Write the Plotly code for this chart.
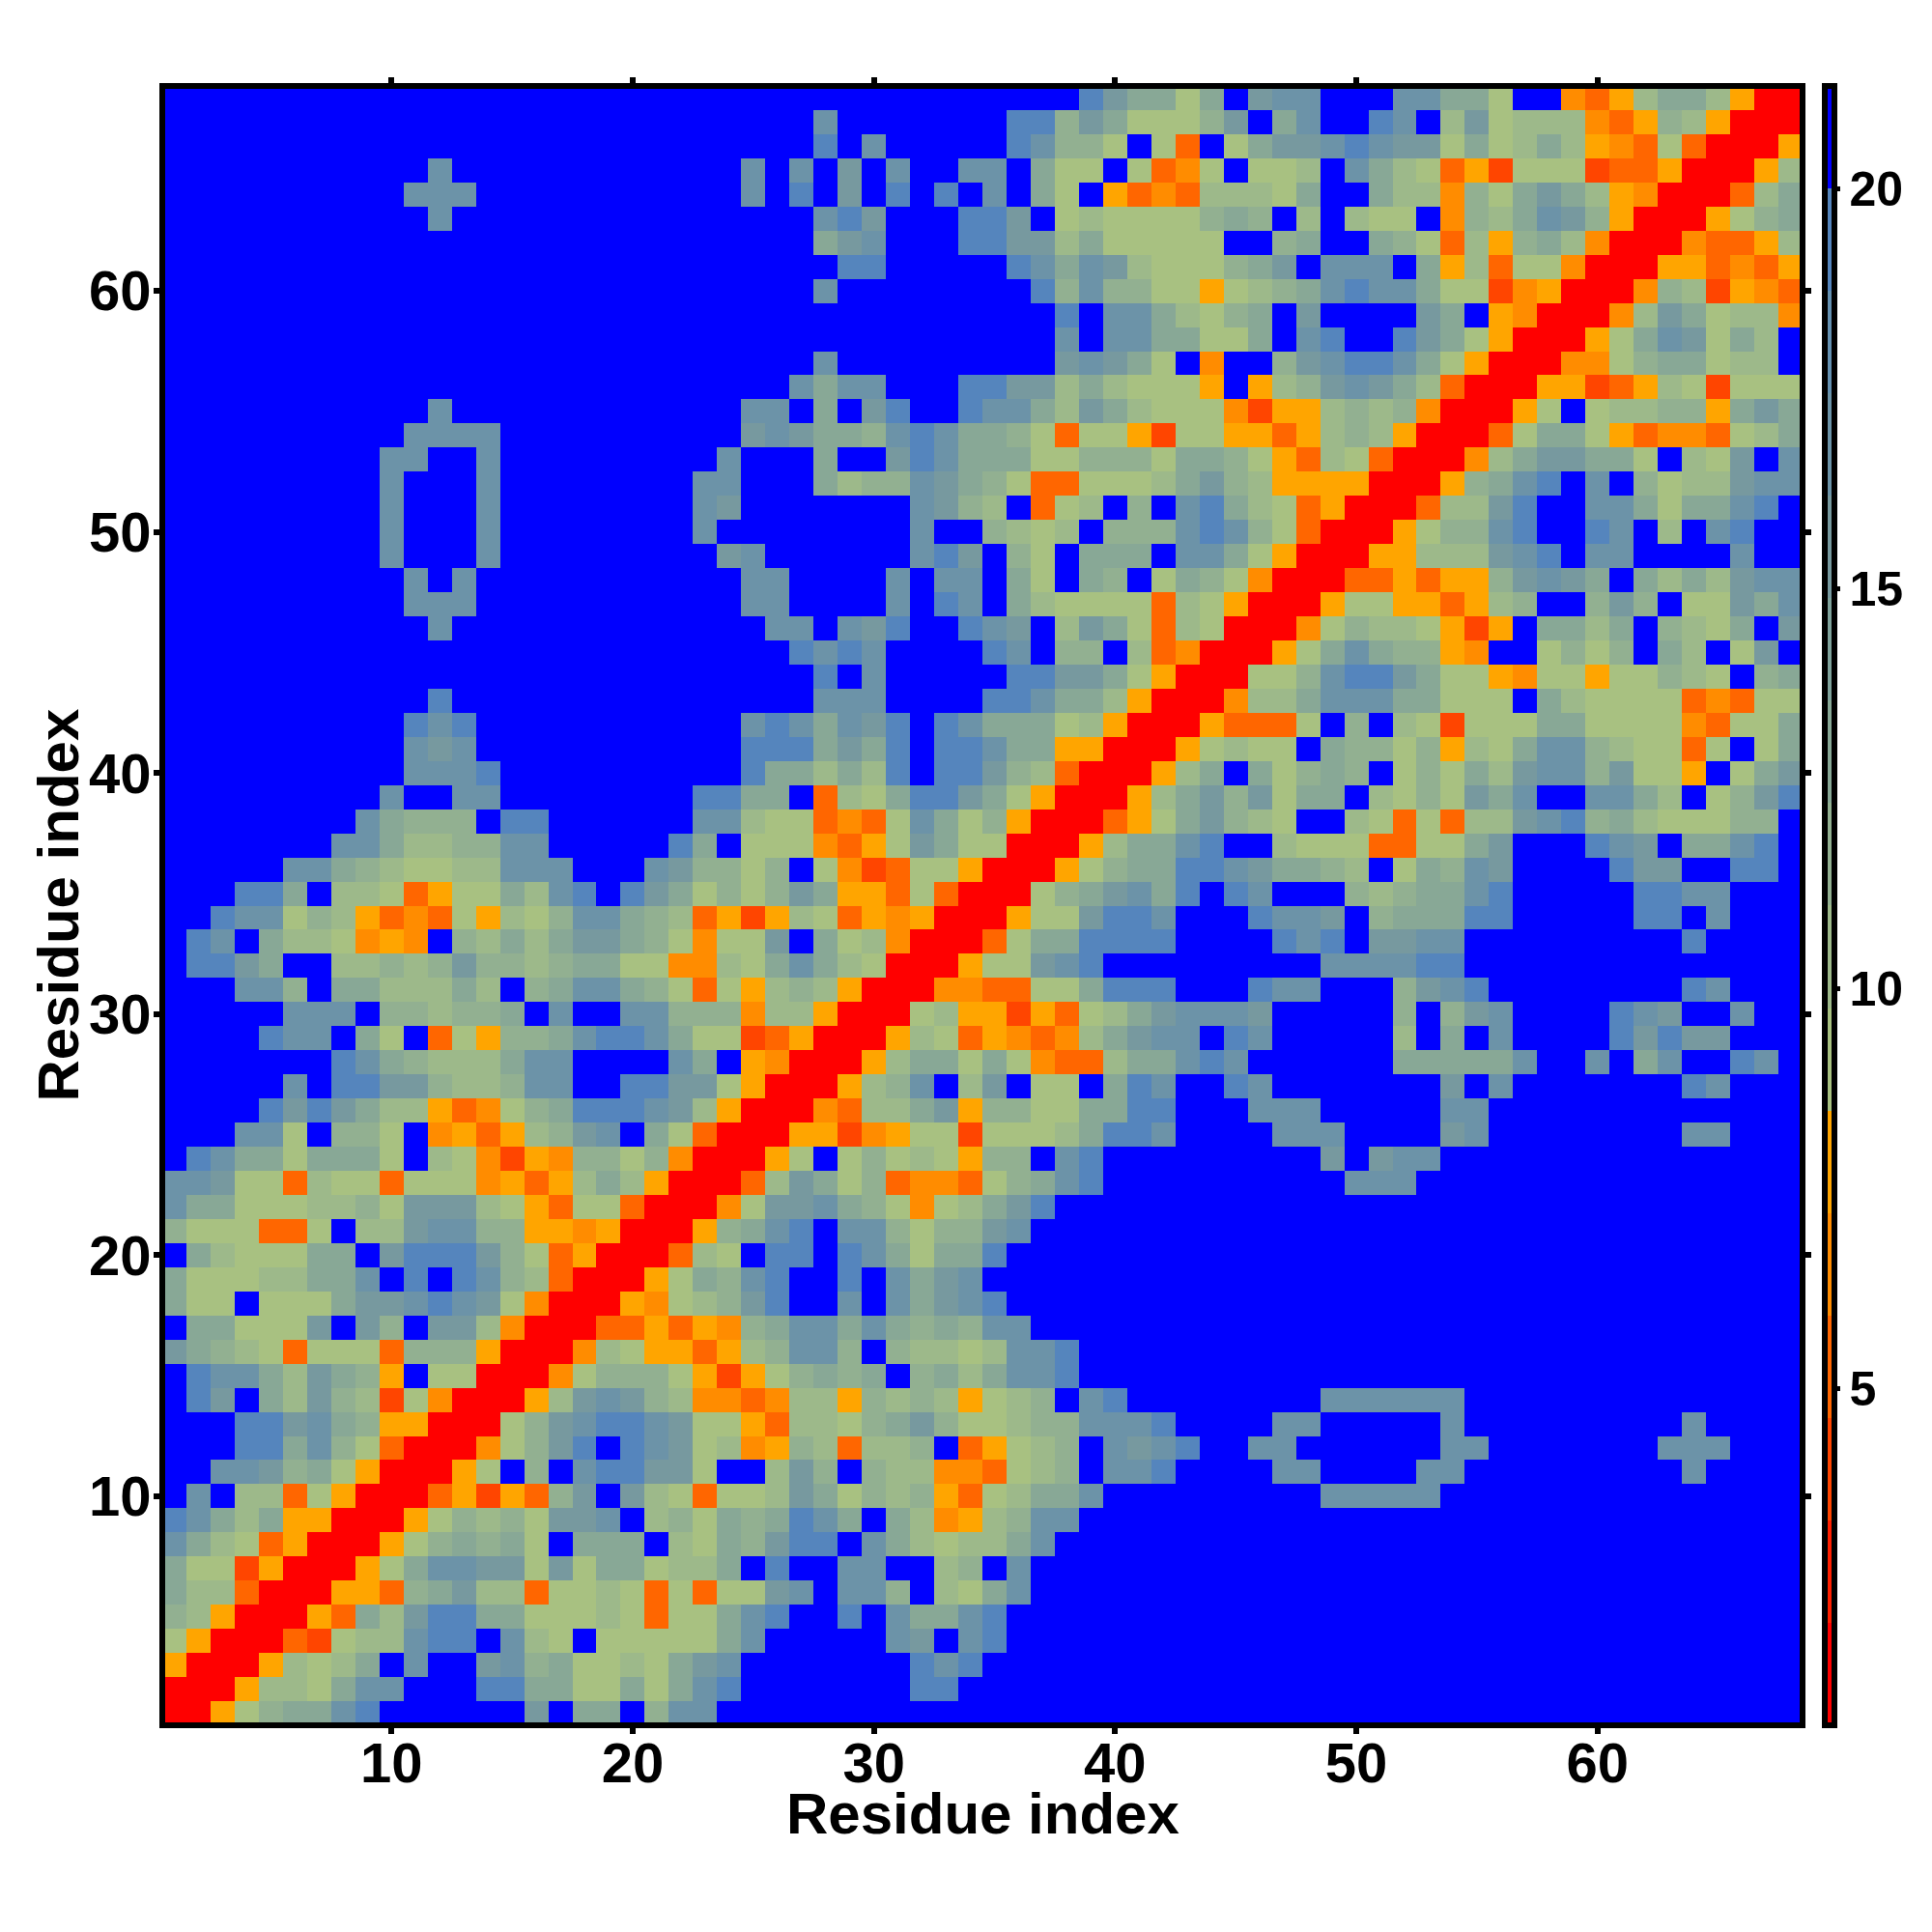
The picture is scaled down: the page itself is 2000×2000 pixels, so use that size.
import plotly.graph_objects as go

residues = list(range(1, 69))
tick_values = [10, 20, 30, 40, 50, 60]
bar_ticks = [5, 10, 15, 20]
z_min, z_max = 0.8, 21.28
band_colors = ["#FF0000", "#FF2000", "#FF4500", "#FF6600", "#FF8C00", "#FFA500",
               "#A8C181", "#9DB98A", "#92B091", "#88A896", "#7FA29B", "#77999F",
               "#6C93A8", "#6490B0", "#5585BD", "#0000FF"]
# band-centre value of each distance class
class_value = {"R": 1.44, "o": 4.0, "O": 5.28, "A": 6.56, "Y": 7.84,
               "1": 9.12, "2": 9.12, "3": 10.4, "4": 11.68, "5": 12.96,
               "6": 15.52, "7": 16.8, "8": 19.36, "B": 20.64}
B = "B"
lower_rows = [
"R", "RR", "YRR", "2YRR", "43YRR", "533ORR", "522oYRR", "7532OYRR", "87535YYRR",
"B7B33O2YRR", "BB776452YRR", "BBB885742ORR", "BBB886754YYRR", "B86B53643o2ARR",
"B87753654YB22RR", "65432O222O444YRR", "B552226B64B663ARR", "522B22256678762ARR",
"522233557B8B8743ORR", "B5322255B6888642OYRR", "4221OO2B3367744YYAYRR",
"755222334266632YO22ORR", "77622O322O222AYOY353YRR",
"B875525552B32AoYA4424ARR", "BBB772B442BAYOY3467B52ORR",
"BBBB8686533YOA245888763YRR",
B*5 + "7B8866433477BB88662YRR",
B*7 + "8754333577BBBB75BYARR",
B*4 + "877B52BO2Y4457887522oOYRR",
B*5 + "777B443445B7BB77444A33YRR",
"BBB774B5533353B4577542O2Y343YRR",
"B8865BB33434644345522AA3257532RR",
"B87B5332AYAB4353566542A226B523ARR",
"BB877143YOAO2Y31477543OYoY32OYAYRR",
"BBB885B332OY225378B865241465YYO2ORR",
B*5 + "775431233777BBB764414B2AoO22YRR",
B*7 + "775334477" + B*5 + "85B222AOY26522RR",
B*8 + "75444B88" + B*6 + "77322OAO27524YRR",
B*9 + "7BB77" + B*8 + "8855BO32588652YRR",
B*10 + "7778" + B*10 + "8553538B88643ORR",
B*10 + "767" + B*11 + "8885658B88755YYRR",
B*10 + "878" + B*11 + "7875768B8755523YRR",
B*11 + "8" + B*15 + "777BBBB887553YRR",
B*27 + "8B7" + B*5 + "886652YRR",
B*26 + "8787BBBB87B44B3OARR",
B*11 + "7" + B*13 + "77B768BB876B3652O32RR",
B*10 + "777" + B*11 + "77BBBB7B87B532222O32YRR",
B*10 + "7B7" + B*11 + "77BBBB7B77B52B54B2542ARR",
B*9 + "7BBB7" + B*9 + "67" + B*6 + "786B42B555B7752YRR",
B*9 + "7BBB7" + B*8 + "7" + B*8 + "7BB4313B44478742ORR",
B*9 + "7BBB7" + B*8 + "76" + B*7 + "7643BO23B4B78532OYRR",
B*9 + "7BBB7" + B*8 + "77BBB534476542OO22235643YYYYRR",
B*9 + "77BB7" + B*9 + "7BBB5BB6875552244425542YO32ORR",
B*10 + "7777" + B*10 + "6765547875542O22Yo22YYOY343YRR",
B*11 + "7" + B*12 + "77B5B68BB87753653222AoYY3434ARR",
B*26 + "7577BBB8866353222YBY3467653ORR",
B*27 + "7" + B*9 + "67652BABB46788752YRR",
B*37 + "7B7755225B78BB8652YRR",
B*37 + "8B7753245B6BBBB65BYARR",
B*27 + "7" + B*8 + "8474422Y23457877522oAYRR",
B*28 + "88" + B*5 + "875763222456B777B5Y3O22ARR",
B*27 + "567BBB88663522222BB45BB542O3Y453ARR",
B*11 + "7" + B*15 + "786BBB886B232222454B3B311BA435764YRR",
B*10 + "777" + B*11 + "7B8B6B8B8B7B52BYOAO33325BB533A425653YARR",
B*11 + "7" + B*12 + "7B7B6B7BB77B522B2OA2B223B7532OYo222oOOYRR",
B*27 + "8B7" + B*5 + "87442B2OB256678766252353YAO2ORR",
B*27 + "7" + B*7 + "8846522246B57BB87B362333AOY43YRR",
B*38 + "865525B677BBB77552BBAOY3553YRR",
]

problems = [(i + 1, len(r)) for i, r in enumerate(lower_rows) if len(r) != i + 1]
assert not problems and len(lower_rows) == 68, problems

z = [[0.0] * 68 for _ in range(68)]
for i, row in enumerate(lower_rows):
    for j, ch in enumerate(row):
        z[i][j] = class_value[ch]
        z[j][i] = class_value[ch]

n = len(band_colors)
colorscale = []
for k, c in enumerate(band_colors):
    colorscale.append([k / n, c])
    colorscale.append([(k + 1) / n, c])

font_family = "Liberation Sans"
title_font = dict(family=font_family, size=60, color="black", weight=700)
fig = go.Figure(go.Heatmap(
    x=residues, y=residues, z=z, zmin=z_min, zmax=z_max, colorscale=colorscale,
    xgap=0, ygap=0,
    colorbar=dict(
        x=1.0135, xanchor="left", xpad=0, ypad=0, y=0.5, yanchor="middle",
        lenmode="fraction", len=1.0, thickness=10, thicknessmode="pixels",
        outlinecolor="black", outlinewidth=6,
        tickmode="array", tickvals=bar_ticks, ticktext=[str(v) for v in bar_ticks],
        ticks="outside", ticklen=3, tickwidth=5, tickcolor="black",
        tickfont=dict(family=font_family, size=50, color="black", weight=700),
    ),
))
axis_common = dict(
    range=[0.5, 68.5], tickmode="array", tickvals=tick_values,
    ticktext=[str(v) for v in tick_values], ticks="outside", ticklen=8, tickwidth=6,
    tickcolor="black", showline=False, mirror="allticks",
    showgrid=False, zeroline=False,
    tickfont=dict(family=font_family, size=58, color="black", weight=700),
)
fig.update_layout(
    width=2000, height=2000, autosize=False,
    margin=dict(l=168, r=134, t=89, b=214, pad=0),
    paper_bgcolor="white", plot_bgcolor="white",
    xaxis=dict(**axis_common, ticklabelstandoff=-20),
    yaxis=dict(**axis_common, ticklabelstandoff=-9),
    shapes=[dict(type="rect", xref="paper", yref="paper", x0=0, x1=1, y0=0, y1=1,
                 line=dict(color="black", width=6), layer="above")],
    annotations=[
        dict(text="Residue index", xref="paper", yref="paper", x=0.5, y=0,
             xanchor="center", yanchor="middle", yshift=-91, showarrow=False, font=title_font),
        dict(text="Residue index", xref="paper", yref="paper", x=0, y=0.5, textangle=-90,
             xanchor="center", yanchor="middle", xshift=-108, showarrow=False, font=title_font),
    ],
)
fig.write_html("out.html", config={"displayModeBar": False},
               post_script="document.body.style.margin='0';")
